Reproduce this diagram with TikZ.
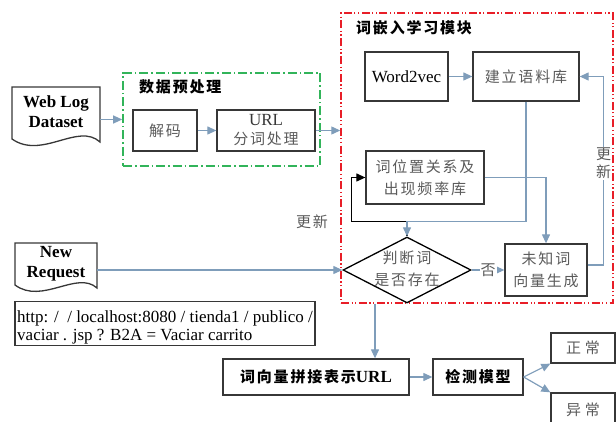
\documentclass[tikz,border=0pt]{standalone}
\usepackage{fontspec}
\setmainfont{Liberation Serif}
\newfontfamily\cjk{Noto Sans CJK SC}[LetterSpace=12]
\usetikzlibrary{arrows.meta,shapes.geometric,calc}
\definecolor{lineblue}{RGB}{127,157,186}
\definecolor{dgreen}{RGB}{50,180,90}
\definecolor{dred}{RGB}{232,30,40}
\definecolor{boxgray}{RGB}{55,55,55}
\definecolor{txtgray}{RGB}{90,90,90}
\begin{document}
\begin{tikzpicture}[x=1pt,y=-1pt,
  box/.style={draw=boxgray, line width=1.3pt, inner sep=0pt, align=center},
  cn/.style={font=\cjk\fontsize{15}{22}\selectfont, text=txtgray},
  cnb/.style={font=\cjk\bfseries\fontsize{15}{20}\selectfont, text=black},
  lat/.style={font=\fontsize{17}{20}\selectfont},
  latb/.style={font=\bfseries\fontsize{17}{20}\selectfont, align=center, inner sep=0pt},
  arr/.style={draw=lineblue, line width=1.2pt, -{Triangle[length=9pt,width=8pt]}},
  blk/.style={draw=black, line width=1.2pt, -{Triangle[length=9pt,width=8pt]}},
  docline/.style={draw=boxgray, line width=1.3pt},
  greenbox/.style={draw=dgreen, line width=1.6pt, dash pattern=on 9pt off 3pt on 1.5pt off 3pt, inner sep=0pt},
  redbox/.style={draw=dred, line width=1.4pt, dash pattern=on 8pt off 2.5pt on 1.2pt off 2.5pt on 1.2pt off 2.5pt, inner sep=0pt},
  lbl/.style={font=\cjk\fontsize{15}{18}\selectfont, text=txtgray, fill=white, inner sep=1pt, align=center}
]
\clip (0,0) rectangle (616,422);

% containers
\node[greenbox, minimum width=197pt, minimum height=93pt] (pre) at (221.5,119.5) {};
\node[redbox, minimum width=272pt, minimum height=290pt] (emb) at (477,158) {};
\node[cnb, anchor=west, inner sep=0pt] (pretitle) at (139,87) {数据预处理};
\node[cnb, anchor=west, inner sep=0pt] (embtitle) at (356,28) {词嵌入学习模块};

% document shapes
\draw[docline] (12,87) -- (100,87) -- (100,142) .. controls (78,122) and (42,160) .. (12,139) -- cycle;
\node[latb, minimum width=88pt] (wld) at (56,112) {Web Log\\Dataset};
\draw[docline] (15,243) -- (97,243) -- (97,288) .. controls (77,270) and (42,305) .. (15,285) -- cycle;
\node[latb, minimum width=82pt] (nr) at (56,264) {New\\Request};

% preprocessing boxes
\node[box, cn, minimum width=64pt, minimum height=41pt] (jm) at (165,130.5) {解码};
\node[box, cn, minimum width=98pt, minimum height=41pt] (fc) at (266,130.5) {{\rmfamily\fontsize{17}{18}\selectfont\color{boxgray}URL}\\[-3pt]分词处理};

% embedding module
\node[box, lat, minimum width=83pt, minimum height=49pt] (w2v) at (406.5,76.5) {Word2vec};
\node[box, cn, minimum width=106pt, minimum height=49pt] (corp) at (526,76.5) {建立语料库};
\node[box, cn, minimum width=118pt, minimum height=53pt] (pos) at (425,177.5) {词位置关系及\\出现频率库};
\node[diamond, draw=black, line width=1.3pt, minimum width=128pt, minimum height=66pt, inner sep=0pt] (judge) at (407,270) {};
\node[cn, align=center, inner sep=0pt] (judgetext) at (407,268.5) {判断词\\是否存在};
\node[box, cn, minimum width=82pt, minimum height=52pt] (unk) at (546,270) {未知词\\向量生成};

% URL sample
\node[box, align=left, minimum width=300pt, minimum height=43pt, inner sep=1.5pt, font=\fontsize{17}{18}\selectfont] (url) at (165,323.5)
  {\rule{0pt}{20pt}http: /\ \ / localhost:8080 / tienda1 / publico /\\vaciar . jsp ? B2A = Vaciar carrito};

% bottom row
\node[box, minimum width=186pt, minimum height=36pt] (vec) at (316,377) {{\cjk\bfseries\fontsize{15}{20}\selectfont 词向量拼接表示}{\bfseries\fontsize{17}{20}\selectfont URL}};
\node[box, cnb, minimum width=90pt, minimum height=36pt] (det) at (478,377) {检测模型};
\node[box, cn, minimum width=64pt, minimum height=30pt] (ok) at (583,348) {正\hspace{4pt}常};
\node[box, cn, minimum width=64pt, minimum height=34pt] (bad) at (583,410) {异\hspace{4pt}常};

% connectors
\draw[arr] (wld.east |- pre.west) -- (pre.west);
\draw[arr] (jm.east) -- (fc.west);
\draw[arr] (fc.east) -- (fc.east -| emb.west);
\draw[arr] (w2v.east) -- (corp.west);
\draw[blk] (judge.north) -- ([yshift=15pt]judge.north) -| ([xshift=-14pt]pos.west) -- (pos.west);
\draw[arr] (corp.south) |- ([yshift=15pt]judge.north) -- (judge.north);
\draw[arr] (pos.east) -| (unk.north);
\draw[arr] (judge.east) -- node[lbl] (no) {否} (unk.west);
\draw[arr] ([yshift=5pt]unk.east) -- ++(16,0) |- node[lbl, pos=0.27] (upd) {更\\新} (corp.east);
\node[cn, inner sep=0pt] (upd2) at (312,222) {更新};
\draw[arr] (nr.east |- judge.west) -- (judge.west);
\draw[arr] ([xshift=59pt]vec.north |- emb.south) -- ([xshift=59pt]vec.north);
\draw[arr] (vec.east) -- (det.west);
\draw[arr] (det.east) -- (ok.south west);
\draw[arr] (det.east) -- (bad.north west);
\end{tikzpicture}
\end{document}
